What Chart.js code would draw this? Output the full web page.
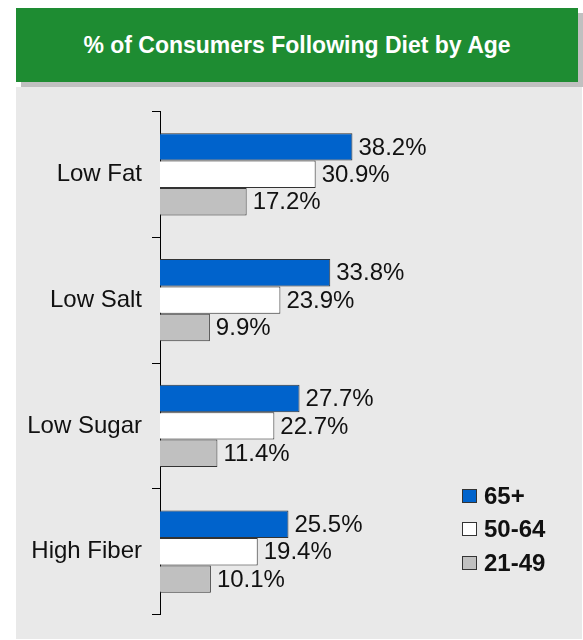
<!DOCTYPE html>
<html>
<head>
<meta charset="utf-8">
<script src="https://cdn.jsdelivr.net/npm/chart.js@4.4.1/dist/chart.umd.min.js"></script>
<style>
  body { margin: 0; background: #fff; font-family: "Liberation Sans", Arial, sans-serif; }
  #banner {
    position: absolute; left: 16px; top: 8px; width: 562px; height: 74px;
    background: #1e8c32; box-shadow: 5px 5px 0 #c0c0c0;
    color: #fff; font-weight: bold; font-size: 23px;
    display: flex; align-items: center; justify-content: center;
  }
  #panel {
    position: absolute; left: 16px; top: 87px; width: 566px; height: 552px;
    background: #e9e9e9;
  }
  #legend { position: absolute; left: 446px; top: 392px; }
  .item { display: flex; align-items: center; height: 33.5px; font-weight: bold; font-size: 24px; color: #111; }
  .box { width: 13px; height: 12px; border: 1px solid #333; margin-right: 7px; }
</style>
</head>
<body>
<div id="banner">% of Consumers Following Diet by Age</div>
<div id="panel">
  <canvas id="chart" width="566" height="552"></canvas>
  <div id="legend"></div>
</div>
<script>
// Диети та вікові групи
const categories = ['Low Fat', 'Low Salt', 'Low Sugar', 'High Fiber'];
const seriesNames = ['65+', '50-64', '21-49'];
const age65 = [38.2, 33.8, 27.7, 25.5];
const age50 = [30.9, 23.9, 22.7, 19.4];
const age21 = [17.2, 9.9, 11.4, 10.1];
const colors = ['#0063cc', '#ffffff', '#c0c0c0'];

const values = [age65, age50, age21];

// Підписи значень праворуч від смуг
const valueLabels = {
  id: 'valueLabels',
  afterDatasetsDraw(chart) {
    const ctx = chart.ctx;
    ctx.save();
    ctx.font = '24px "Liberation Sans", Arial, sans-serif';
    ctx.fillStyle = '#111';
    ctx.textBaseline = 'middle';
    chart.data.datasets.forEach((ds, i) => {
      chart.getDatasetMeta(i).data.forEach((bar, j) => {
        ctx.fillText(ds.data[j].toFixed(1) + '%', bar.x + 6, bar.y + 1);
      });
    });
    ctx.restore();
  }
};

const config = {
  type: 'bar',
  data: {
    labels: categories,
    datasets: seriesNames.map((name, i) => ({
      label: name,
      data: values[i],
      backgroundColor: colors[i],
      borderColor: '#333',
      borderWidth: 1,
      categoryPercentage: 0.654,
      barPercentage: 1
    }))
  },
  options: {
    indexAxis: 'y',
    responsive: false,
    animation: false,
    layout: { padding: { top: 23, bottom: 21, right: 19, left: 0 } },
    plugins: {
      legend: { display: false },
      tooltip: { enabled: false }
    },
    scales: {
      x: { display: false, min: 0, max: 80 },
      y: {
        afterFit(scale) { scale.width = 144; },
        border: { display: true, color: '#000', width: 1 },
        grid: { drawOnChartArea: false, drawTicks: true, tickLength: 8, color: '#000', offset: true },
        ticks: {
          padding: 10,
          color: '#111',
          font: { family: '"Liberation Sans", Arial, sans-serif', size: 24 }
        }
      }
    }
  },
  plugins: [valueLabels]
};

new Chart(document.getElementById('chart').getContext('2d'), config);

// Легенда
const legend = document.getElementById('legend');
seriesNames.forEach((name, i) => {
  const item = document.createElement('div');
  item.className = 'item';
  item.innerHTML = '<span class="box" style="background:' + colors[i] + '"></span>' + name;
  legend.appendChild(item);
});
</script>
</body>
</html>
